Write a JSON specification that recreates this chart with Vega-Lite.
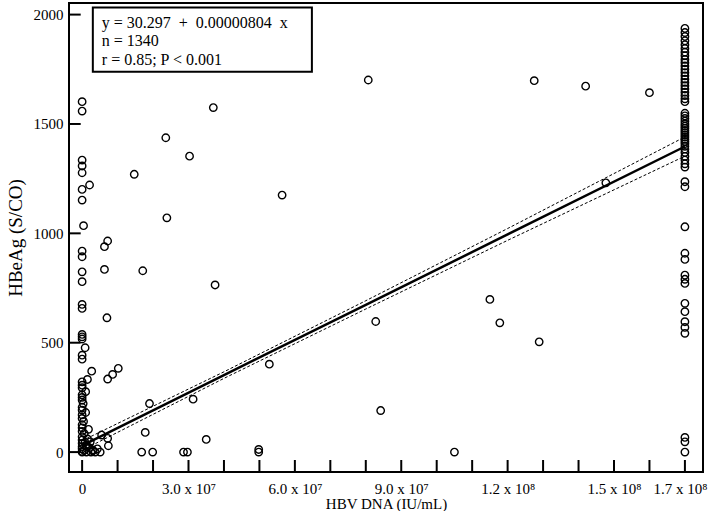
{
  "$schema": "https://vega.github.io/schema/vega-lite/v6.json",
  "width": 634,
  "height": 469,
  "autosize": {"type": "none"},
  "padding": {"left": 69, "top": 3, "right": 6, "bottom": 39},
  "background": "white",
  "config": {"view": {"stroke": "black", "strokeWidth": 2}, "font": "Liberation Serif"},
  "resolve": {"axis": {"x": "independent"}},
  "datasets": {
    "pts": [
      {"dna":0,"hbeag":1602},{"dna":0,"hbeag":1559},{"dna":0,"hbeag":1335},{"dna":0,"hbeag":1308},{"dna":0,"hbeag":1277},
      {"dna":2100000,"hbeag":1221},{"dna":0,"hbeag":1201},{"dna":0,"hbeag":1152},{"dna":400000,"hbeag":1035},{"dna":0,"hbeag":919},
      {"dna":0,"hbeag":893},{"dna":0,"hbeag":824},{"dna":0,"hbeag":779},{"dna":0,"hbeag":675},{"dna":0,"hbeag":657},
      {"dna":0,"hbeag":538},{"dna":0,"hbeag":527},{"dna":0,"hbeag":517},{"dna":850000,"hbeag":477},{"dna":0,"hbeag":443},
      {"dna":0,"hbeag":425},{"dna":2700000,"hbeag":370},{"dna":1500000,"hbeag":332},{"dna":0,"hbeag":321},{"dna":0,"hbeag":306},
      {"dna":0,"hbeag":294},{"dna":1000000,"hbeag":276},{"dna":0,"hbeag":262},{"dna":0,"hbeag":250},{"dna":0,"hbeag":238},
      {"dna":300000,"hbeag":222},{"dna":0,"hbeag":205},{"dna":0,"hbeag":192},{"dna":1000000,"hbeag":181},{"dna":0,"hbeag":170},
      {"dna":0,"hbeag":154},{"dna":400000,"hbeag":140},{"dna":0,"hbeag":125},{"dna":0,"hbeag":111},{"dna":1800000,"hbeag":104},
      {"dna":0,"hbeag":95},{"dna":600000,"hbeag":85},{"dna":0,"hbeag":70},{"dna":1500000,"hbeag":60},{"dna":0,"hbeag":55},
      {"dna":2300000,"hbeag":47},{"dna":0,"hbeag":40},{"dna":1100000,"hbeag":32},{"dna":0,"hbeag":25},{"dna":2000000,"hbeag":20},
      {"dna":0,"hbeag":15},{"dna":3000000,"hbeag":10},{"dna":600000,"hbeag":8},{"dna":3000000,"hbeag":5},{"dna":0,"hbeag":3},
      {"dna":0,"hbeag":0},{"dna":1200000,"hbeag":0},{"dna":2500000,"hbeag":0},{"dna":3700000,"hbeag":0},{"dna":5100000,"hbeag":0},
      {"dna":4300000,"hbeag":15},{"dna":800000,"hbeag":45},{"dna":1500000,"hbeag":25},
      {"dna":23600000,"hbeag":1437},{"dna":30300000,"hbeag":1353},{"dna":14700000,"hbeag":1270},{"dna":23900000,"hbeag":1071},
      {"dna":7200000,"hbeag":965},{"dna":6300000,"hbeag":939},{"dna":6300000,"hbeag":835},{"dna":17100000,"hbeag":829},
      {"dna":7000000,"hbeag":614},{"dna":10200000,"hbeag":383},{"dna":8600000,"hbeag":355},{"dna":7200000,"hbeag":334},
      {"dna":19000000,"hbeag":222},{"dna":17800000,"hbeag":90},{"dna":5500000,"hbeag":78},{"dna":7200000,"hbeag":63},
      {"dna":7400000,"hbeag":29},{"dna":16800000,"hbeag":0},{"dna":19900000,"hbeag":0},{"dna":28600000,"hbeag":0},
      {"dna":29700000,"hbeag":0},{"dna":80700000,"hbeag":1701},{"dna":37000000,"hbeag":1575},{"dna":56400000,"hbeag":1175},
      {"dna":37500000,"hbeag":764},{"dna":82800000,"hbeag":597},{"dna":52800000,"hbeag":402},{"dna":31300000,"hbeag":242},
      {"dna":84200000,"hbeag":190},{"dna":35000000,"hbeag":58},{"dna":49800000,"hbeag":12},{"dna":49800000,"hbeag":0},
      {"dna":127500000,"hbeag":1698},{"dna":142000000,"hbeag":1673},{"dna":160000000,"hbeag":1643},{"dna":147700000,"hbeag":1231},
      {"dna":115000000,"hbeag":698},{"dna":117800000,"hbeag":591},{"dna":128900000,"hbeag":504},{"dna":105000000,"hbeag":0},
      {"dna":170000000,"hbeag":1937},{"dna":170000000,"hbeag":1918},{"dna":170000000,"hbeag":1900},{"dna":170000000,"hbeag":1880},
      {"dna":170000000,"hbeag":1862},{"dna":170000000,"hbeag":1845},{"dna":170000000,"hbeag":1828},{"dna":170000000,"hbeag":1812},
      {"dna":170000000,"hbeag":1795},{"dna":170000000,"hbeag":1780},{"dna":170000000,"hbeag":1765},{"dna":170000000,"hbeag":1750},
      {"dna":170000000,"hbeag":1735},{"dna":170000000,"hbeag":1720},{"dna":170000000,"hbeag":1705},{"dna":170000000,"hbeag":1690},
      {"dna":170000000,"hbeag":1675},{"dna":170000000,"hbeag":1660},{"dna":170000000,"hbeag":1645},{"dna":170000000,"hbeag":1630},
      {"dna":170000000,"hbeag":1615},{"dna":170000000,"hbeag":1602},{"dna":170000000,"hbeag":1549},{"dna":170000000,"hbeag":1537},
      {"dna":170000000,"hbeag":1525},{"dna":170000000,"hbeag":1513},{"dna":170000000,"hbeag":1500},{"dna":170000000,"hbeag":1490},
      {"dna":170000000,"hbeag":1480},{"dna":170000000,"hbeag":1470},{"dna":170000000,"hbeag":1460},{"dna":170000000,"hbeag":1450},
      {"dna":170000000,"hbeag":1440},{"dna":170000000,"hbeag":1430},{"dna":170000000,"hbeag":1420},{"dna":170000000,"hbeag":1410},
      {"dna":170000000,"hbeag":1398},{"dna":170000000,"hbeag":1385},{"dna":170000000,"hbeag":1370},{"dna":170000000,"hbeag":1352},
      {"dna":170000000,"hbeag":1335},{"dna":170000000,"hbeag":1318},{"dna":170000000,"hbeag":1303},{"dna":170000000,"hbeag":1236},
      {"dna":170000000,"hbeag":1213},{"dna":170000000,"hbeag":1030},{"dna":170000000,"hbeag":909},{"dna":170000000,"hbeag":881},
      {"dna":170000000,"hbeag":809},{"dna":170000000,"hbeag":790},{"dna":170000000,"hbeag":771},{"dna":170000000,"hbeag":680},
      {"dna":170000000,"hbeag":642},{"dna":170000000,"hbeag":596},{"dna":170000000,"hbeag":570},{"dna":170000000,"hbeag":543},
      {"dna":170000000,"hbeag":67},{"dna":170000000,"hbeag":47},{"dna":170000000,"hbeag":0}
    ],
    "fit": [
      {"dna":0,"fit":30,"lo":8,"hi":52},
      {"dna":40000000,"fit":352,"lo":337,"hi":367},
      {"dna":80000000,"fit":673,"lo":654,"hi":692},
      {"dna":120000000,"fit":995,"lo":968,"hi":1022},
      {"dna":170000000,"fit":1397,"lo":1353,"hi":1441}
    ],
    "xticks": [
      {"tick":0},{"tick":10000000},{"tick":20000000},{"tick":30000000},{"tick":40000000},{"tick":50000000},
      {"tick":60000000},{"tick":70000000},{"tick":80000000},{"tick":90000000},{"tick":100000000},{"tick":110000000},
      {"tick":120000000},{"tick":130000000},{"tick":140000000},{"tick":150000000},{"tick":160000000},{"tick":170000000}
    ],
    "yticks": [
      {"tick":0},{"tick":500},{"tick":1000},{"tick":1500},{"tick":2000}
    ]
  },
  "layer": [
    {
      "data": {"name": "pts"},
      "mark": {"type": "point", "shape": "circle", "filled": false, "stroke": "black", "strokeWidth": 1.4, "size": 55, "opacity": 1},
      "encoding": {
        "x": {
          "field": "dna", "type": "quantitative",
          "scale": {"domain": [-3700000, 175100000], "nice": false, "zero": false},
          "axis": null
        },
        "y": {
          "field": "hbeag", "type": "quantitative",
          "scale": {"domain": [-91, 2053], "nice": false, "zero": false},
          "axis": {
            "title": "HBeAg (S/CO)",
            "values": [0, 500, 1000, 1500, 2000],
            "format": "d",
            "domain": false, "grid": false, "ticks": false,
            "labelFont": "Liberation Serif", "labelFontSize": 15, "labelColor": "black",
            "labelPadding": 6,
            "titleFont": "Liberation Serif", "titleFontSize": 19, "titleFontWeight": "normal", "titleColor": "black", "titlePadding": 8
          }
        }
      }
    },
    {
      "data": {"name": "xticks"},
      "mark": {"type": "rule", "color": "black", "strokeWidth": 2, "opacity": 1},
      "encoding": {
        "x": {"field": "tick", "type": "quantitative", "axis": null},
        "y": {"datum": -91, "type": "quantitative"},
        "y2": {"datum": -36}
      }
    },
    {
      "data": {"name": "yticks"},
      "mark": {"type": "rule", "color": "black", "strokeWidth": 2, "opacity": 1},
      "encoding": {
        "x": {"datum": -3700000, "type": "quantitative", "axis": null},
        "x2": {"datum": -400000},
        "y": {"field": "tick", "type": "quantitative"}
      }
    },
    {
      "data": {"name": "fit"},
      "mark": {"type": "line", "color": "black", "strokeWidth": 2.5},
      "encoding": {
        "x": {
          "field": "dna", "type": "quantitative",
          "axis": {
            "orient": "bottom",
            "title": "HBV DNA (IU/mL)",
            "values": [0,30000000,60000000,90000000,120000000,150000000,170000000],
            "labelExpr": "datum.value == 0 ? '0' : datum.value == 30000000 ? '3.0 x 10⁷' : datum.value == 60000000 ? '6.0 x 10⁷' : datum.value == 90000000 ? '9.0 x 10⁷' : datum.value == 120000000 ? '1.2 x 10⁸' : datum.value == 150000000 ? '1.5 x 10⁸' : '1.7 x 10⁸'",
            "domain": false, "grid": false, "ticks": false,
            "labelFont": "Liberation Serif", "labelFontSize": 15, "labelColor": "black",
            "labelPadding": 9, "labelFlush": false, "labelOverlap": false, "labelBound": false,
            "labelOffset": {"condition": {"test": "datum.value == 170000000", "value": -5}, "value": 0},
            "titleFont": "Liberation Serif", "titleFontSize": 15, "titleFontWeight": "normal", "titleColor": "black", "titlePadding": 0
          }
        },
        "y": {"field": "fit", "type": "quantitative"}
      }
    },
    {
      "data": {"name": "fit"},
      "mark": {"type": "line", "color": "black", "strokeWidth": 1, "strokeDash": [3, 2]},
      "encoding": {"x": {"field": "dna", "type": "quantitative", "axis": null}, "y": {"field": "lo", "type": "quantitative"}}
    },
    {
      "data": {"name": "fit"},
      "mark": {"type": "line", "color": "black", "strokeWidth": 1, "strokeDash": [3, 2]},
      "encoding": {"x": {"field": "dna", "type": "quantitative", "axis": null}, "y": {"field": "hi", "type": "quantitative"}}
    },
    {
      "data": {"values": [{}]},
      "mark": {"type": "rect", "fill": "white", "stroke": "black", "strokeWidth": 2},
      "encoding": {
        "x": {"datum": 3020000, "type": "quantitative", "axis": null},
        "x2": {"datum": 64800000},
        "y": {"datum": 2033, "type": "quantitative"},
        "y2": {"datum": 1739}
      }
    },
    {
      "data": {"values": [{}]},
      "mark": {"type": "text", "align": "left", "baseline": "alphabetic", "font": "Liberation Serif", "fontSize": 16, "lineHeight": 18.3, "color": "black"},
      "encoding": {
        "x": {"datum": 5550000, "type": "quantitative", "axis": null},
        "y": {"datum": 1939, "type": "quantitative"},
        "text": {"value": ["y = 30.297 \u00a0+ \u00a00.00000804 \u00a0x", "n = 1340", "r = 0.85; P < 0.001"]}
      }
    }
  ]
}
